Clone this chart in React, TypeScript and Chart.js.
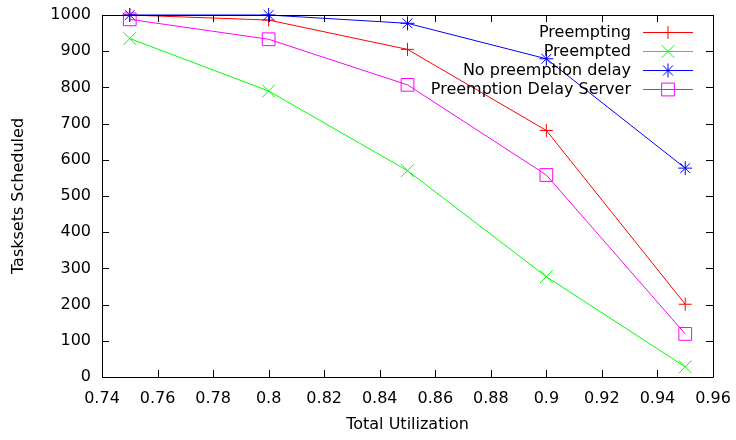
import React, { useEffect, useRef } from 'react';
import { Chart, registerables } from 'chart.js';

Chart.register(...registerables);

const utilization = [0.75, 0.8, 0.85, 0.9, 0.95];
const preempting = [1000, 986, 905, 681, 201];
const preempted = [935, 790, 570, 277, 28];
const noPreemptionDelay = [1000, 1000, 977, 879, 577];
const preemptionDelayServer = [988, 933, 807, 558, 119];

const seriesNames = ['Preempting', 'Preempted', 'No preemption delay', 'Preemption Delay Server'];
const seriesColors = ['#ff0000', '#00ff00', '#0000ff', '#ff00ff'];
const seriesMarkers = ['cross', 'crossRot', 'star', 'rect'];

const xTickValues = [0.74, 0.76, 0.78, 0.8, 0.82, 0.84, 0.86, 0.88, 0.9, 0.92, 0.94, 0.96];
const xTickLabels = ['0.74', '0.76', '0.78', '0.8', '0.82', '0.84', '0.86', '0.88', '0.9', '0.92', '0.94', '0.96'];
const yTickValues = [0, 100, 200, 300, 400, 500, 600, 700, 800, 900, 1000];
const yTickLabels = ['0', '100', '200', '300', '400', '500', '600', '700', '800', '900', '1000'];

const xTitle = 'Total Utilization';
const yTitle = 'Tasksets Scheduled';

const FONT = '16px "DejaVu Sans"';

function markerRadius(m: string) {
  if (m === 'cross') return 6.5;
  if (m === 'crossRot') return 9;
  if (m === 'star') return 7;
  return 9;
}

function drawMarker(ctx: CanvasRenderingContext2D, m: string, x: number, y: number, color: string) {
  ctx.save();
  ctx.strokeStyle = color;
  ctx.lineWidth = 1;
  ctx.beginPath();
  if (m === 'cross' || m === 'star') {
    const r = m === 'cross' ? 6.5 : 7;
    ctx.moveTo(x - r, y); ctx.lineTo(x + r, y);
    ctx.moveTo(x, y - r); ctx.lineTo(x, y + r);
  }
  if (m === 'crossRot' || m === 'star') {
    const r = m === 'crossRot' ? 6.4 : 5;
    ctx.moveTo(x - r, y - r); ctx.lineTo(x + r, y + r);
    ctx.moveTo(x - r, y + r); ctx.lineTo(x + r, y - r);
  }
  if (m === 'rect') {
    const s = 6.4;
    ctx.rect(x - s, y - s, 2 * s, 2 * s);
  }
  ctx.stroke();
  ctx.restore();
}

function zeroPadding(scale: any) {
  scale.paddingLeft = 0;
  scale.paddingRight = 0;
  scale.paddingTop = 0;
  scale.paddingBottom = 0;
}

const framePlugin = {
  id: 'gnuFrame',
  afterDatasetsDraw(chart: any) {
    const { ctx, chartArea, scales } = chart;
    const { left, right, top, bottom } = chartArea;
    ctx.save();
    ctx.strokeStyle = '#000';
    ctx.lineWidth = 1;
    ctx.beginPath();
    const tl = 7;
    xTickValues.forEach((v) => {
      const px = Math.round(scales.x.getPixelForValue(v)) + 0.5;
      ctx.moveTo(px, bottom); ctx.lineTo(px, bottom - tl);
      ctx.moveTo(px, top); ctx.lineTo(px, top + tl);
    });
    yTickValues.forEach((v) => {
      const py = Math.round(scales.y.getPixelForValue(v)) + 0.5;
      ctx.moveTo(left, py); ctx.lineTo(left + tl, py);
      ctx.moveTo(right, py); ctx.lineTo(right - tl, py);
    });
    ctx.stroke();
    ctx.beginPath();
    ctx.rect(Math.round(left) + 0.5, Math.round(top) + 0.5, Math.round(right - left), Math.round(bottom - top));
    ctx.stroke();

    // axis titles
    ctx.fillStyle = '#000';
    ctx.font = FONT;
    ctx.textAlign = 'center';
    ctx.textBaseline = 'middle';
    ctx.fillText(xTitle, (left + right) / 2, 425);
    ctx.save();
    ctx.translate(19, (top + bottom) / 2);
    ctx.rotate(-Math.PI / 2);
    ctx.fillText(yTitle, 0, 0);
    ctx.restore();

    // legend
    const textRight = 631;
    const lineL = 643;
    const lineR = 693;
    const rows = [32, 51, 70, 89];
    seriesNames.forEach((name, i) => {
      const y = rows[i];
      ctx.fillStyle = '#000';
      ctx.textAlign = 'right';
      ctx.textBaseline = 'middle';
      ctx.fillText(name, textRight, y + 1);
      ctx.strokeStyle = seriesColors[i];
      ctx.beginPath();
      ctx.moveTo(lineL, y + 0.5);
      ctx.lineTo(lineR, y + 0.5);
      ctx.stroke();
      drawMarker(ctx, seriesMarkers[i], (lineL + lineR) / 2, y + 0.5, seriesColors[i]);
    });
    ctx.restore();
  },
};

export default function App() {
  const ref = useRef<HTMLCanvasElement | null>(null);

  useEffect(() => {
    if (!ref.current) return;
    const seriesData = [preempting, preempted, noPreemptionDelay, preemptionDelayServer];
    const chart = new Chart(ref.current, {
      type: 'line',
      data: {
        datasets: seriesData.map((vals, i) => ({
          label: seriesNames[i],
          data: vals.map((v, j) => ({ x: utilization[j], y: v })),
          borderColor: seriesColors[i],
          backgroundColor: 'rgba(0,0,0,0)',
          borderWidth: 1,
          pointStyle: seriesMarkers[i] as any,
          pointRadius: markerRadius(seriesMarkers[i]),
          pointBorderWidth: 1,
          pointBorderColor: seriesColors[i],
          pointBackgroundColor: 'rgba(0,0,0,0)',
          tension: 0,
          clip: false as any,
          order: 3 - i,
        })),
      },
      options: {
        responsive: false,
        animation: false,
        devicePixelRatio: 1,
        layout: { autoPadding: false, padding: { left: 0, right: 23, top: 15, bottom: 0 } },
        plugins: { legend: { display: false }, tooltip: { enabled: false } },
        scales: {
          x: {
            type: 'linear',
            min: 0.74,
            max: 0.96,
            afterBuildTicks: (scale: any) => {
              scale.ticks = xTickValues.map((v) => ({ value: v }));
            },
            afterFit: (scale: any) => {
              scale.height = 63;
              zeroPadding(scale);
            },
            grid: { display: false, drawTicks: false },
            border: { display: false },
            ticks: {
              color: '#000',
              font: { family: 'DejaVu Sans', size: 16 },
              padding: 12,
              maxRotation: 0,
              autoSkip: false,
              callback: (_v: any, idx: number) => xTickLabels[idx],
            },
          },
          y: {
            type: 'linear',
            min: 0,
            max: 1000,
            afterBuildTicks: (scale: any) => {
              scale.ticks = yTickValues.map((v) => ({ value: v }));
            },
            afterFit: (scale: any) => {
              scale.width = 102;
              zeroPadding(scale);
            },
            grid: { display: false, drawTicks: false },
            border: { display: false },
            ticks: {
              color: '#000',
              font: { family: 'DejaVu Sans', size: 16 },
              padding: 11,
              autoSkip: false,
              callback: (_v: any, idx: number) => yTickLabels[idx],
            },
          },
        },
      },
      plugins: [framePlugin],
    });
    return () => chart.destroy();
  }, []);

  return (
    <div style={{ position: 'fixed', left: 0, top: 0, width: 736, height: 440, background: '#fff' }}>
      <canvas ref={ref} width={736} height={440} style={{ width: 736, height: 440 }} />
    </div>
  );
}
